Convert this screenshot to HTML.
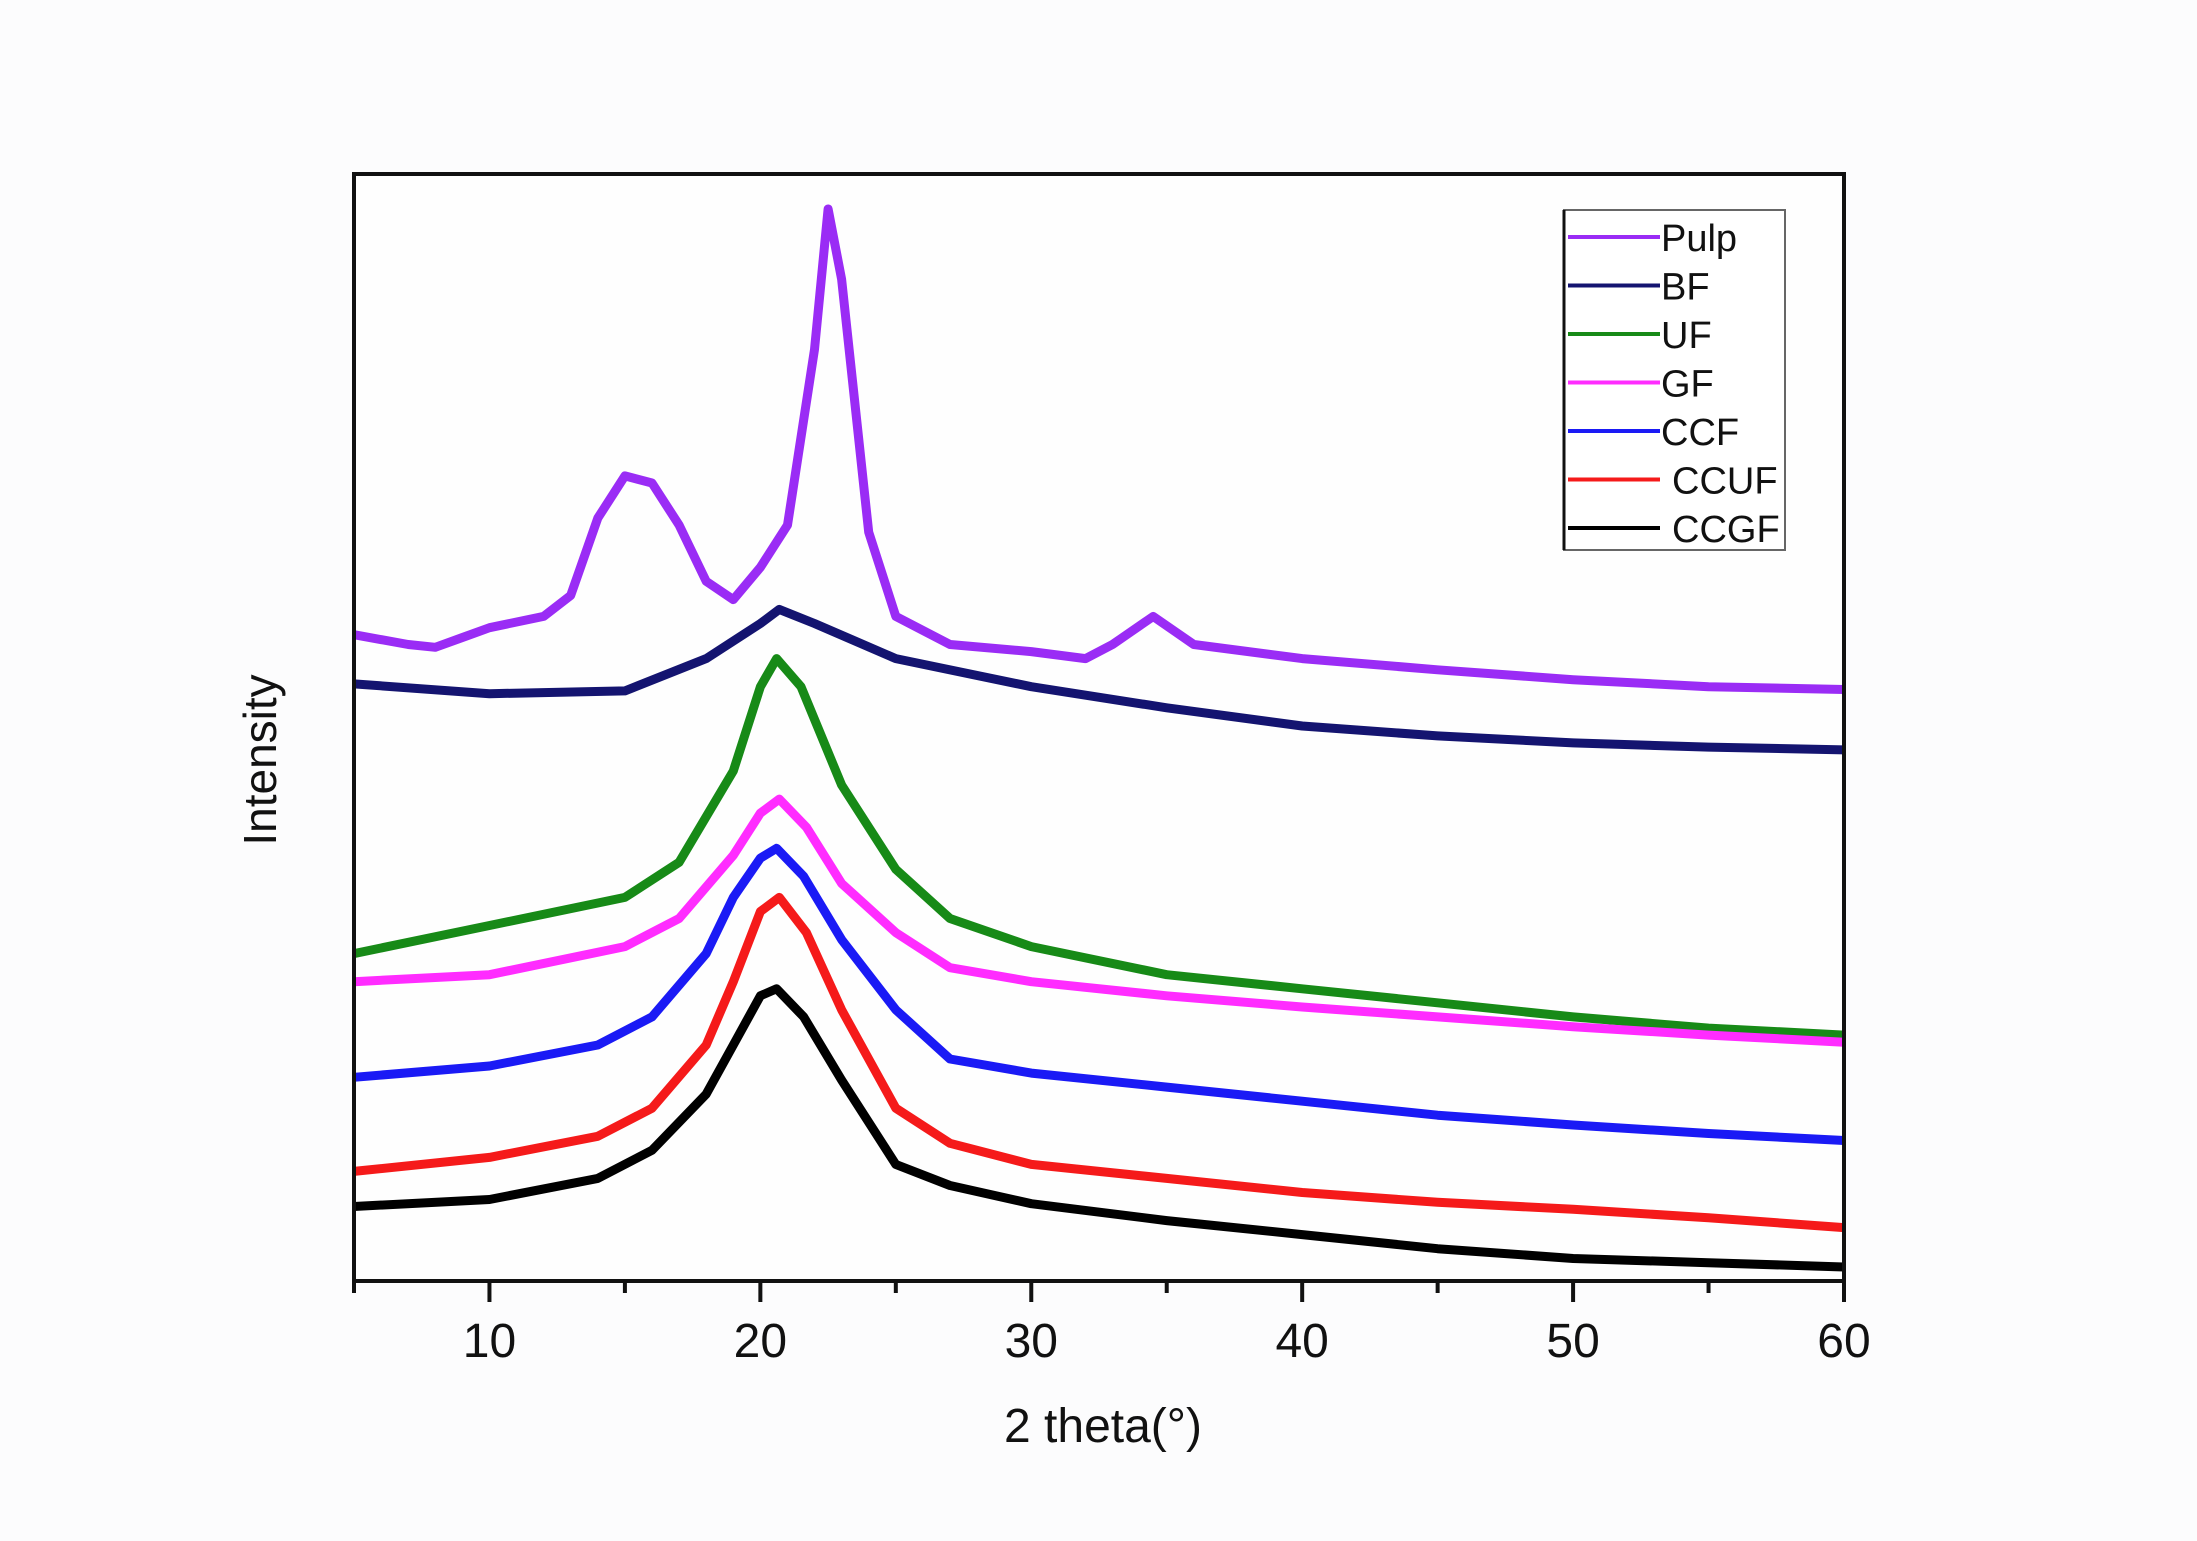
<!DOCTYPE html>
<html><head><meta charset="utf-8"><style>
html,body{margin:0;padding:0;background:#fcfcfd;}
svg{display:block;font-family:"Liberation Sans",sans-serif;}
</style></head><body>
<svg width="2197" height="1541" viewBox="0 0 2197 1541">
<rect x="0" y="0" width="2197" height="1541" fill="#fcfcfd"/>
<rect x="354" y="174" width="1490" height="1107" fill="#fefefe"/>
<g id="series"></g>
<rect x="354" y="174" width="1490" height="1107" fill="none" stroke="#111" stroke-width="4"/>
<g id="ticks"></g>
<text x="1103" y="1442" font-size="48" text-anchor="middle" fill="#111">2 theta(°)</text>
<text x="0" y="0" font-size="46" text-anchor="middle" fill="#111" transform="translate(276,760) rotate(-90)">Intensity</text>
<g>
<rect x="1564" y="210" width="221" height="340" fill="#fff" stroke="#666" stroke-width="2"/>
<line x1="1564" y1="210" x2="1564" y2="550" stroke="#111" stroke-width="3"/>
<g id="legend-items"></g>
</g>
</svg>
<script>
const xs = {
 Pulp:[5,7,8,9,10,12,13,14,15,16,17,18,19,20,21,22,22.5,23,24,25,27,30,32,33,34.5,36,40,45,50,55,60],
 BF:[5,10,15,18,20,20.7,22,25,30,35,40,45,50,55,60],
 UF:[5,10,15,17,19,20,20.6,21.5,23,25,27,30,35,40,45,50,55,60],
 GF:[5,10,15,17,19,20,20.7,21.7,23,25,27,30,35,40,45,50,55,60],
 CCF:[5,10,14,16,18,19,20,20.6,21.6,23,25,27,30,35,40,45,50,55,60],
 CCUF:[5,10,14,16,18,19,20,20.7,21.7,23,25,27,30,35,40,45,50,55,60],
 CCGF:[5,10,14,16,18,19,20,20.6,21.6,23,25,27,30,35,40,45,50,55,60]
};
const pulpValues=[460,453,451,458,465,473,488,543,573,568,538,498,485,508,538,663,763,713,533,473,453,448,443,453,473,453,443,435,428,423,421];
const bfValues=[425,418,420,443,468,478,468,443,423,408,395,388,383,380,378];
const ufValues=[233,253,273,298,363,423,443,423,353,293,258,238,218,208,198,188,180,175];
const gfValues=[213,218,238,258,303,333,343,323,283,248,223,213,203,195,188,181,175,170];
const ccfValues=[145,153,168,188,233,273,301,308,288,243,193,158,148,138,128,118,111,105,100];
const ccufValues=[78,88,103,123,168,213,263,273,248,193,123,98,83,73,63,56,51,45,38];
const ccgfValues=[53,58,73,93,133,168,203,208,188,143,83,68,55,43,33,23,16,13,10];
const seriesNames=["Pulp","BF","UF","GF","CCF","CCUF","CCGF"];
const seriesColors=["#9a2cf5","#141470","#178a17","#ff2cff","#1a1af5","#f51a1a","#000000"];
const seriesVals=[pulpValues,bfValues,ufValues,gfValues,ccfValues,ccufValues,ccgfValues];
const xTicks=[10,20,30,40,50,60];
const xMinor=[5,15,25,35,45,55];
const ns="http://www.w3.org/2000/svg";
function xScale(v){return 354+(v-5)*(1490/55);}
function yScale(v){return 1281-v*1.405;}
const g=document.getElementById('series');
seriesNames.forEach((n,i)=>{
  const p=document.createElementNS(ns,'path');
  const d=xs[n].map((x,j)=>(j?'L':'M')+xScale(x).toFixed(1)+','+yScale(seriesVals[i][j]).toFixed(1)).join(' ');
  p.setAttribute('d',d);p.setAttribute('fill','none');p.setAttribute('stroke',seriesColors[i]);
  p.setAttribute('stroke-width','9');p.setAttribute('stroke-linejoin','round');
  
  
  g.appendChild(p);
});
const t=document.getElementById('ticks');
xTicks.forEach(v=>{
  const l=document.createElementNS(ns,'line');
  l.setAttribute('x1',xScale(v));l.setAttribute('x2',xScale(v));l.setAttribute('y1',1281);l.setAttribute('y2',1302);
  l.setAttribute('stroke','#111');l.setAttribute('stroke-width','4');
  
  
  t.appendChild(l);
  const tx=document.createElementNS(ns,'text');
  tx.setAttribute('x',xScale(v));tx.setAttribute('y',1357);tx.setAttribute('font-size','48');
  tx.setAttribute('text-anchor','middle');tx.setAttribute('fill','#111');tx.textContent=v;
  
  
  t.appendChild(tx);
});
xMinor.forEach(v=>{
  const l=document.createElementNS(ns,'line');
  l.setAttribute('x1',xScale(v));l.setAttribute('x2',xScale(v));l.setAttribute('y1',1281);l.setAttribute('y2',1293);
  l.setAttribute('stroke','#111');l.setAttribute('stroke-width','4');
  
  
  t.appendChild(l);
});
const lg=document.getElementById('legend-items');
seriesNames.forEach((n,i)=>{
  const y=237+i*48.5;
  const l=document.createElementNS(ns,'line');
  l.setAttribute('x1',1568);l.setAttribute('x2',1660);l.setAttribute('y1',y);l.setAttribute('y2',y);
  l.setAttribute('stroke',seriesColors[i]);l.setAttribute('stroke-width','4');
  
  
  lg.appendChild(l);
  const tx=document.createElementNS(ns,'text');
  tx.setAttribute('x',i>=5?1672:1661);tx.setAttribute('y',y+14);tx.setAttribute('font-size','38');
  tx.setAttribute('fill','#111');tx.textContent=n;
  
  
  lg.appendChild(tx);
});
</script>
</body></html>
